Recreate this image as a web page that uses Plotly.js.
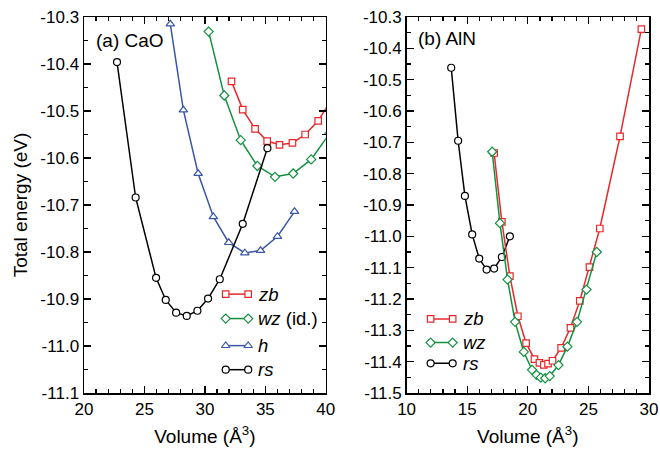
<!DOCTYPE html>
<html>
<head>
<meta charset="utf-8">
<script src="https://cdn.plot.ly/plotly-3.0.1.min.js"></script>
<style>html,body{margin:0;padding:0;background:#fff;}#chart{width:660px;height:450px;}</style>
</head>
<body>
<div id="chart"></div>
<script>
// ---- (a) CaO ----
const caoRsV = [22.73, 24.27, 25.96, 26.76, 27.62, 28.5, 29.38, 30.26, 31.23, 33.13, 35.17];
const caoRsE = [-10.396, -10.684, -10.855, -10.902, -10.929, -10.936, -10.925, -10.899, -10.858, -10.740, -10.579];
const caoHV = [27.14, 28.22, 29.44, 30.7, 31.97, 33.3, 34.6, 36.0, 37.41];
const caoHE = [-10.315, -10.498, -10.633, -10.725, -10.78, -10.802, -10.797, -10.767, -10.714];
const caoWzV = [30.31, 31.6, 32.96, 34.34, 35.8, 37.3, 38.79, 40.3];
const caoWzE = [-10.331, -10.467, -10.562, -10.617, -10.640, -10.633, -10.603, -10.548];
const caoZbV = [32.2, 33.13, 34.15, 35.15, 36.17, 37.24, 38.29, 39.37, 40.4];
const caoZbE = [-10.437, -10.497, -10.538, -10.564, -10.572, -10.568, -10.55, -10.521, -10.478];
// ---- (b) AlN ----
const alnRsV = [13.68, 14.25, 14.81, 15.41, 15.99, 16.6, 17.22, 17.86, 18.52];
const alnRsE = [-10.462, -10.695, -10.871, -10.994, -11.071, -11.106, -11.103, -11.066, -11.0];
const alnZbV = [17.22, 17.86, 18.52, 19.18, 19.86, 20.55, 20.96, 21.32, 21.67, 22.04, 22.75, 23.52, 24.29, 25.09, 25.94, 27.61, 29.37];
const alnZbE = [-10.734, -10.954, -11.127, -11.255, -11.341, -11.392, -11.404, -11.41, -11.406, -11.397, -11.356, -11.292, -11.206, -11.098, -10.975, -10.681, -10.339];
const alnWzV = [17.06, 17.7, 18.33, 18.95, 19.67, 20.35, 20.72, 21.07, 21.43, 21.81, 22.53, 23.27, 24.06, 24.84, 25.69];
const alnWzE = [-10.73, -10.958, -11.138, -11.273, -11.369, -11.426, -11.442, -11.451, -11.453, -11.446, -11.411, -11.352, -11.273, -11.17, -11.05];

// tick labels
const yTickValsA = [-11.1, -11.0, -10.9, -10.8, -10.7, -10.6, -10.5, -10.4, -10.3];
const yTickTextA = ['-11.1', '-11.0', '-10.9', '-10.8', '-10.7', '-10.6', '-10.5', '-10.4', '-10.3'];
const yTickValsB = [-11.5, -11.4, -11.3, -11.2, -11.1, -11.0, -10.9, -10.8, -10.7, -10.6, -10.5, -10.4, -10.3];
const yTickTextB = ['-11.5', '-11.4', '-11.3', '-11.2', '-11.1', '-11.0', '-10.9', '-10.8', '-10.7', '-10.6', '-10.5', '-10.4', '-10.3'];

const legendA = ['<i>zb</i>', '<i>wz</i> (id.)', '<i>h</i>', '<i>rs</i>'];
const legendB = ['<i>zb</i>', '<i>wz</i>', '<i>rs</i>'];
const panelLabels = ['(a) CaO', '(b) AlN'];

const RED = '#e8272a', GREEN = '#139140', BLUE = '#3a56a8', BLACK = '#000000';
const FONT = 'Liberation Sans, Arial, Helvetica, sans-serif';

function tr(x, y, color, symbol, xa, ya, msize) {
  return {x: x, y: y, xaxis: xa, yaxis: ya, mode: 'lines+markers', type: 'scatter',
    line: {color: color, width: 1.5},
    marker: {symbol: symbol, size: msize || 6.5, color: '#ffffff', line: {color: color, width: 1.2}},
    showlegend: false, hoverinfo: 'skip', cliponaxis: true};
}

const traces = [
  tr(caoZbV, caoZbE, RED, 'square', 'x', 'y', 6.5),
  tr(caoWzV, caoWzE, GREEN, 'diamond', 'x', 'y', 7),
  tr(caoHV, caoHE, BLUE, 'triangle-up', 'x', 'y', 7.5),
  tr(caoRsV, caoRsE, BLACK, 'circle', 'x', 'y', 7),
  tr(alnRsV, alnRsE, BLACK, 'circle', 'x2', 'y2', 7),
  tr(alnZbV, alnZbE, RED, 'square', 'x2', 'y2', 6.5),
  tr(alnWzV, alnWzE, GREEN, 'diamond', 'x2', 'y2', 7)
];

// custom legend glyphs on hidden overlay axes (0..1 units)
const legA = [[RED,'square',0.263,6.5],[GREEN,'diamond',0.198,7],[BLUE,'triangle-up',0.126,7.5],[BLACK,'circle',0.062,7]];
legA.forEach(function(l){ traces.push(tr([0.586,0.679],[l[2],l[2]], l[0], l[1], 'x3', 'y3', l[3])); });
const legB = [[RED,'square',0.197,6.5],[GREEN,'diamond',0.134,7],[BLACK,'circle',0.079,7]];
legB.forEach(function(l){ traces.push(tr([0.099,0.19],[l[2],l[2]], l[0], l[1], 'x4', 'y4', l[3])); });

const annotations = [];
legendA.forEach(function(t,i){ annotations.push({xref:'x domain', yref:'y domain', x:0.712, y:legA[i][2], text:t, showarrow:false, xanchor:'left', yanchor:'middle', font:{family:FONT,size:18.5,color:'#000'}}); });
legendB.forEach(function(t,i){ annotations.push({xref:'x2 domain', yref:'y2 domain', x:0.225, y:legB[i][2], text:t, showarrow:false, xanchor:'left', yanchor:'middle', font:{family:FONT,size:18.5,color:'#000'}}); });
annotations.push({xref:'x domain', yref:'y domain', x:0.04, y:0.937, text:panelLabels[0], showarrow:false, xanchor:'left', yanchor:'middle', font:{family:FONT,size:19,color:'#000'}});
annotations.push({xref:'x2 domain', yref:'y2 domain', x:0.04, y:0.942, text:panelLabels[1], showarrow:false, xanchor:'left', yanchor:'middle', font:{family:FONT,size:19,color:'#000'}});

function ax(range, dtick, minorDtick, domain, title, anchor) {
  const a = {range: range, domain: domain, anchor: anchor, dtick: dtick, tick0: 0,
    ticks: 'inside', ticklen: 7, tickwidth: 1.3, tickcolor: '#000',
    showline: true, linecolor: '#000', linewidth: 1.5, mirror: 'ticks',
    showgrid: false, zeroline: false,
    minor: {dtick: minorDtick, ticks: 'inside', ticklen: 4, tickwidth: 1.2, tickcolor: '#000', showgrid: false},
    tickfont: {family: FONT, size: 17, color: '#000'}, fixedrange: true};
  if (title) a.title = {text: title, font: {family: FONT, size: 19, color: '#000'}, standoff: 12};
  return a;
}

const xA = ax([20, 40], 5, 1, [0, 0.428], 'Volume (Å<sup>3</sup>)', 'y');
const yA = ax([-11.1, -10.3], 0.1, 0.05, [0, 1], 'Total energy (eV)', 'x');
yA.tickmode = 'array'; yA.tickvals = yTickValsA; yA.ticktext = yTickTextA;
yA.minor.tickmode = 'linear'; yA.minor.tick0 = 0; yA.minor.dtick = 0.05;
yA.title.standoff = 7;
const xB = ax([10, 30], 5, 1, [0.571, 1], 'Volume (Å<sup>3</sup>)', 'y2');
const yB = ax([-11.5, -10.3], 0.1, 0.05, [0, 1], null, 'x2');
yB.tickmode = 'array'; yB.tickvals = yTickValsB; yB.ticktext = yTickTextB;
yB.minor.tickmode = 'linear'; yB.minor.tick0 = 0; yB.minor.dtick = 0.05;

const layout = {
  width: 660, height: 450,
  margin: {l: 84, r: 11, t: 17, b: 57},
  paper_bgcolor: '#fff', plot_bgcolor: 'rgba(0,0,0,0)',
  font: {family: FONT, color: '#000'},
  showlegend: false,
  xaxis: xA, yaxis: yA, xaxis2: xB, yaxis2: yB,
  xaxis3: {overlaying: 'x', range: [0, 1], visible: false, anchor: 'y3', fixedrange: true},
  yaxis3: {overlaying: 'y', range: [0, 1], visible: false, anchor: 'x3', fixedrange: true},
  xaxis4: {overlaying: 'x2', range: [0, 1], visible: false, anchor: 'y4', fixedrange: true},
  yaxis4: {overlaying: 'y2', range: [0, 1], visible: false, anchor: 'x4', fixedrange: true},
  annotations: annotations
};

Plotly.newPlot('chart', traces, layout, {displayModeBar: false, staticPlot: true});
</script>
</body>
</html>
